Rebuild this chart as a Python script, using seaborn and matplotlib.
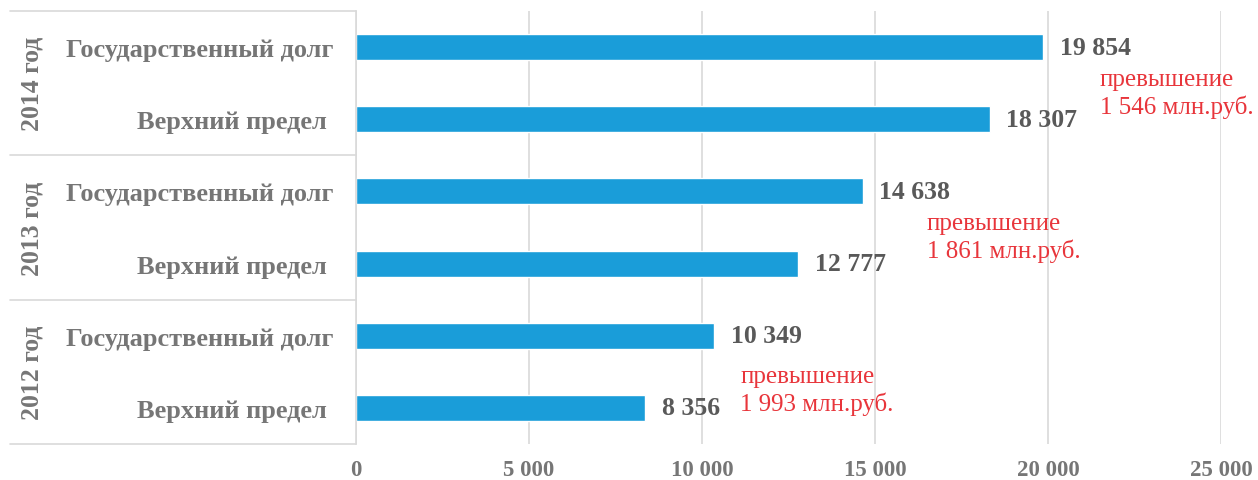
import matplotlib
matplotlib.use("Agg")
import matplotlib.pyplot as plt
import matplotlib.transforms as mtransforms
import pandas as pd
import seaborn as sns

# data, top to bottom
years = ["2014 год", "2013 год", "2012 год"]
items = ["Государственный долг", "Верхний предел "]
values = [19854, 18307, 14638, 12777, 10349, 8356]
notes = ["превышение\n1 546 млн.руб.", "превышение\n1 861 млн.руб.", "превышение\n1 993 млн.руб."]
note_x = [21500, 16500, 11100]
note_y = [0.64, 2.63, 4.75]
xticks = [0, 5000, 10000, 15000, 20000, 25000]

rows = [f"{y} {it}" for y in years for it in items]
df = pd.DataFrame({"row": rows, "value": values})

sns.set_style("white")
plt.rcParams["font.family"] = ["Liberation Serif", "DejaVu Serif"]

fig = plt.figure(figsize=(12.58, 4.81), dpi=100)
ax = fig.add_axes([0.283, 0.0748, 0.6877, 0.9002])

sns.barplot(data=df, x="value", y="row", orient="h", color="#1a9dd9",
            width=0.36, saturation=1, ax=ax)

ax.set_xlim(0, 25000)
ax.set_ylim(5.5, -0.5)
ax.set_xticks(xticks)
ax.set_xticklabels([f"{t:,}".replace(",", " ") for t in xticks],
                   fontsize=16.5, fontweight="bold", color="#767676")
ax.set_yticks(range(len(rows)))
ax.set_yticklabels([it for _ in years for it in items],
                   fontsize=19, fontweight="bold", color="#767676")
ax.tick_params(axis="x", length=0, pad=11)
ax.tick_params(axis="y", length=0, pad=16)
ax.set_xlabel("")
ax.set_ylabel("")

ax.grid(axis="x", color="#d9d9d9", linewidth=1.2)
ax.set_axisbelow(True)
for s in ["top", "right", "bottom"]:
    ax.spines[s].set_visible(False)
ax.spines["left"].set_color("#d9d9d9")
ax.spines["left"].set_linewidth(1.2)

# value labels
for c in ax.containers:
    ax.bar_label(c, labels=[f"{v:,}".replace(",", " ") for v in values],
                 padding=12, fontsize=18.5, fontweight="bold", color="#595959")

# group separators and year labels
trans = mtransforms.blended_transform_factory(ax.transAxes, ax.transData)
for yb in [-0.5, 1.5, 3.5, 5.5]:
    ax.plot([-0.4, 0], [yb, yb], transform=trans, color="#d9d9d9",
            linewidth=1.2, clip_on=False)
for i, yr in enumerate(years):
    ax.text(-0.375, 2 * i + 0.5, yr, transform=trans, rotation=90,
            ha="center", va="center", fontsize=18.5, fontweight="bold",
            color="#767676")

# excess annotations
for nx, ny, t in zip(note_x, note_y, notes):
    ax.text(nx, ny, t, ha="left", va="center", fontsize=18,
            color="#e8353b", linespacing=1.25)

fig.savefig("out.png", dpi=100)
